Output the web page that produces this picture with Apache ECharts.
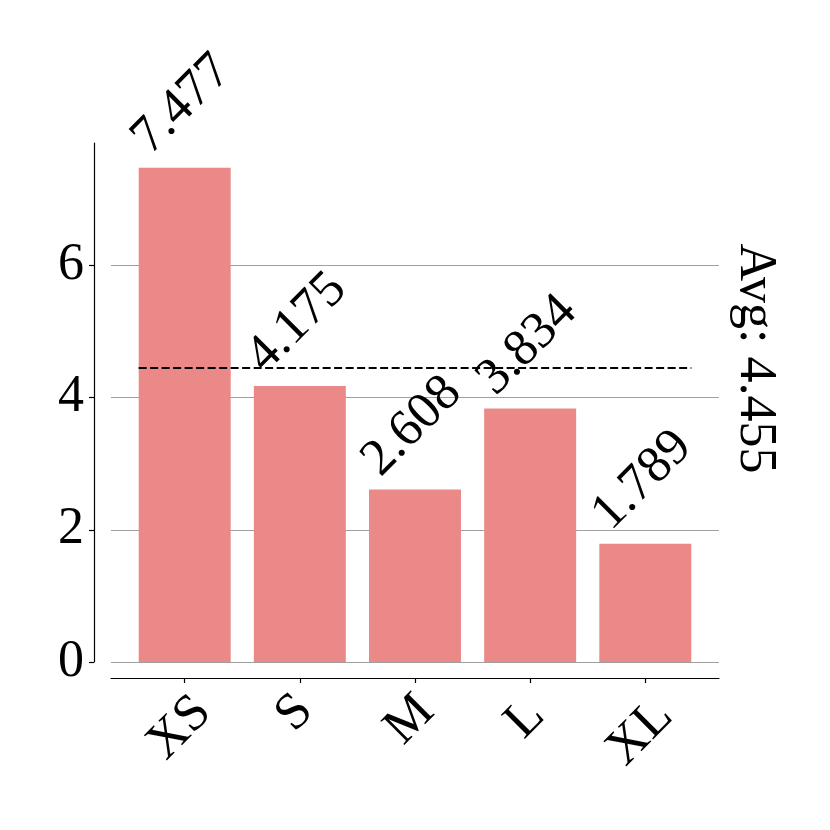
<!DOCTYPE html>
<html>
<head>
<meta charset="utf-8">
<script src="https://cdn.jsdelivr.net/npm/echarts@6/dist/echarts.min.js"></script>
<style>
  html, body { margin: 0; padding: 0; background: #fff; }
  #chart { width: 830px; height: 830px; }
</style>
</head>
<body>
<div id="chart"></div>
<script>
var chart = echarts.init(document.getElementById('chart'));

const categories = ['XS', 'S', 'M', 'L', 'XL'];
const values = [7.477, 4.175, 2.608, 3.834, 1.789];
const avgValue = 4.455;
const yTicks = [0, 2, 4, 6];

const font = '"Liberation Serif", "Times New Roman", Times';
const fs = 52;
const yMax = 7.851;

// push each rotated tick label down so its box top lines up (matplotlib va=top)
const drop = { XS: 15, S: 0, M: 7, L: 6, XL: 20 };
const rich = {};
categories.forEach((c, i) => {
  const p = drop[c] * 1.414;
  rich['t' + i] = {
    fontSize: fs,
    fontFamily: font,
    color: '#000',
    padding: [p, p + 7, 7, 0]
  };
});

var option = {
  animation: false,
  grid: {
    left: 111,
    right: 111,
    top: 143,
    bottom: 168
  },
  xAxis: {
    type: 'value',
    min: -0.64,
    max: 4.64,
    offset: 16,
    axisLine: { show: true, onZero: false, lineStyle: { color: '#000', width: 1.2 } },
    axisTick: {
      show: true,
      length: 5,
      customValues: [0, 1, 2, 3, 4],
      lineStyle: { color: '#000', width: 1.2 }
    },
    axisLabel: {
      customValues: [0, 1, 2, 3, 4],
      rotate: 45,
      margin: 35,
      align: 'center',
      verticalAlign: 'middle',
      fontSize: fs,
      fontFamily: font,
      color: '#000',
      formatter: (v) => `{t${v}|${categories[v]}}`,
      rich: rich
    },
    splitLine: { show: false }
  },
  yAxis: [
    {
      type: 'value',
      min: 0,
      max: yMax,
      offset: 17,
      axisLine: { show: true, onZero: false, lineStyle: { color: '#000', width: 1.2 } },
      axisTick: {
        show: true,
        length: 5,
        customValues: yTicks,
        lineStyle: { color: '#000', width: 1.2 }
      },
      axisLabel: {
        customValues: yTicks,
        margin: 10,
        fontSize: fs,
        fontFamily: font,
        color: '#000'
      },
      splitLine: {
        show: true,
        lineStyle: { color: '#a0a0a0', width: 1 }
      }
    },
    {
      type: 'value',
      position: 'right',
      min: 0,
      max: yMax,
      name: 'Avg: ' + avgValue.toFixed(3),
      nameLocation: 'middle',
      nameRotate: -90,
      nameGap: 10,
      nameTextStyle: {
        fontSize: fs,
        fontFamily: font,
        color: '#000',
        padding: [0, 88, 0, 0]
      },
      axisLine: { show: false },
      axisTick: { show: false },
      axisLabel: { show: false },
      splitLine: { show: false }
    }
  ],
  series: [
    {
      type: 'bar',
      barWidth: 92,
      itemStyle: { color: '#EB8988' },
      data: values.map((v, i) => [i, v]),
      label: {
        show: true,
        position: 'top',
        distance: 66,
        rotate: 45,
        align: 'center',
        verticalAlign: 'middle',
        offset: [-4, 0],
        fontSize: fs,
        fontFamily: font,
        color: '#000',
        formatter: (p) => p.value[1].toFixed(3)
      },
      markLine: {
        silent: true,
        symbol: 'none',
        label: { show: false },
        lineStyle: { color: '#000', width: 2, type: [8, 3.5] },
        data: [[{ coord: [-0.4, avgValue] }, { coord: [4.4, avgValue] }]]
      }
    }
  ]
};

chart.setOption(option);
</script>
</body>
</html>
